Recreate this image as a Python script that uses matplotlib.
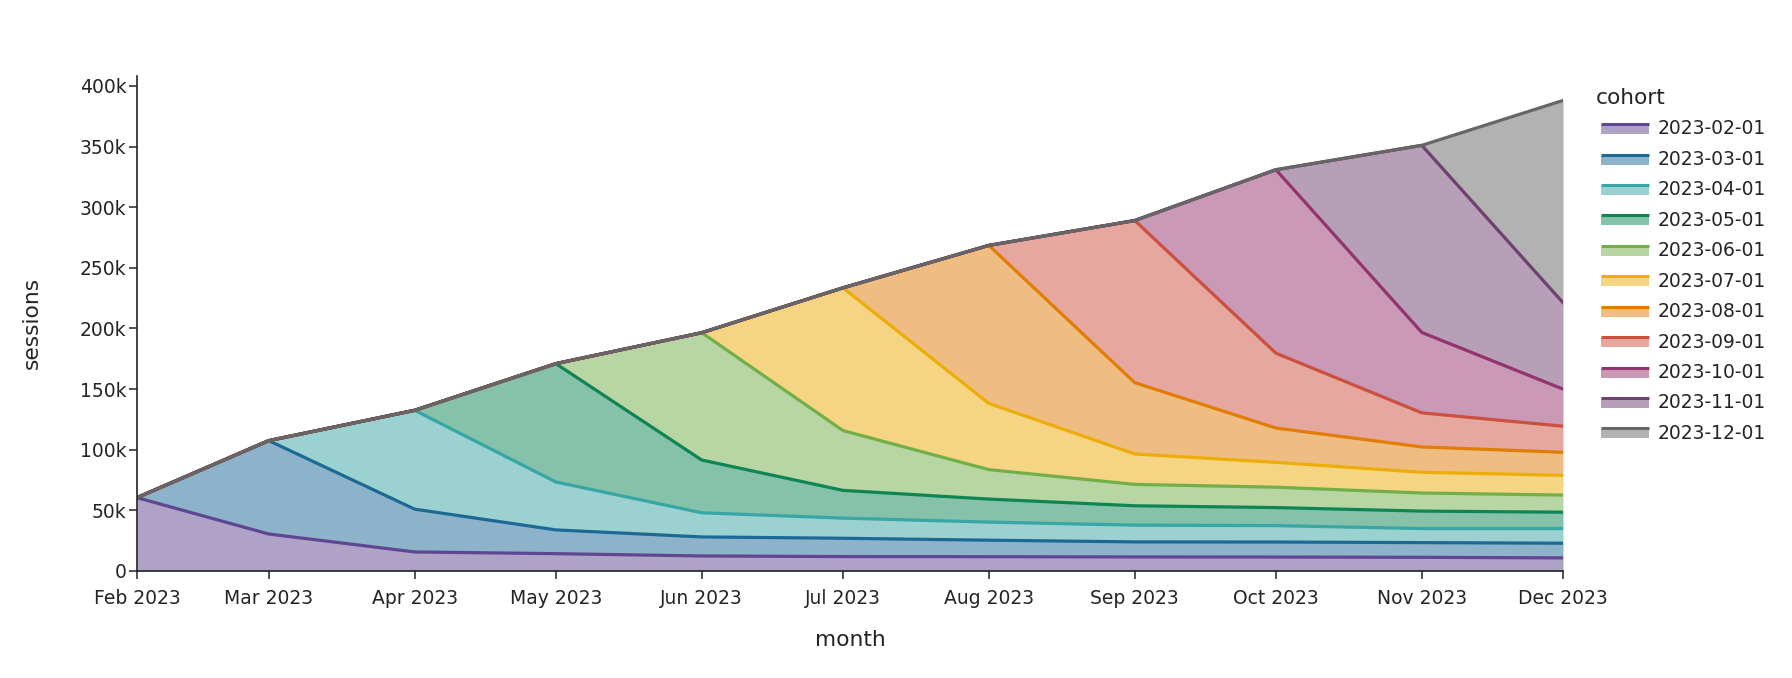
import numpy as np
import matplotlib
matplotlib.use("Agg")
import matplotlib.pyplot as plt
import matplotlib.dates as mdates
from matplotlib.legend_handler import HandlerBase
from matplotlib.patches import Rectangle
from matplotlib.lines import Line2D
from matplotlib.ticker import FuncFormatter, MultipleLocator
import datetime as dt

# ---- data (sessions, in thousands) ----
months = ["2023-02-01", "2023-03-01", "2023-04-01", "2023-05-01", "2023-06-01",
          "2023-07-01", "2023-08-01", "2023-09-01", "2023-10-01", "2023-11-01",
          "2023-12-01"]
cohorts = ["2023-02-01", "2023-03-01", "2023-04-01", "2023-05-01", "2023-06-01",
           "2023-07-01", "2023-08-01", "2023-09-01", "2023-10-01", "2023-11-01",
           "2023-12-01"]

c_2023_02 = [60.5, 30.5, 15.7, 14.3, 12.4, 11.9, 11.8, 11.6, 11.5, 11.3, 10.8]
c_2023_03 = [77.0, 35.3, 19.6, 15.7, 15.1, 13.6, 12.4, 12.4, 12.1, 12.1]
c_2023_04 = [81.5, 39.5, 19.9, 16.6, 14.9, 13.8, 13.5, 11.6, 12.1]
c_2023_05 = [97.6, 43.5, 22.9, 19.0, 16.0, 14.9, 14.4, 13.5]
c_2023_06 = [105.0, 49.3, 24.3, 17.6, 16.8, 14.9, 14.1]
c_2023_07 = [117.7, 54.6, 25.1, 20.5, 17.1, 16.3]
c_2023_08 = [130.3, 58.8, 28.3, 20.9, 19.0]
c_2023_09 = [133.7, 61.7, 28.1, 21.5]
c_2023_10 = [151.3, 66.3, 30.6]
c_2023_11 = [154.3, 71.3]
c_2023_12 = [166.7]

cohort_values = [c_2023_02, c_2023_03, c_2023_04, c_2023_05, c_2023_06, c_2023_07,
                 c_2023_08, c_2023_09, c_2023_10, c_2023_11, c_2023_12]

colors = ["#5F4690", "#1D6996", "#38A6A5", "#0F8554", "#73AF48", "#EDAD08",
          "#E17C05", "#CC503E", "#94346E", "#6F4070", "#666666"]

# ---- build stacked series ----
dates = [dt.datetime.strptime(m, "%Y-%m-%d") for m in months]
n = len(months)
series = []
for vals in cohort_values:
    arr = np.zeros(n)
    arr[n - len(vals):] = np.array(vals) * 1000.0
    series.append(arr)
cum = np.cumsum(np.vstack(series), axis=0)

TXT = "#242424"
plt.rcParams['font.family'] = ['DejaVu Sans']
plt.rcParams['text.color'] = TXT
plt.rcParams['axes.labelcolor'] = TXT
plt.rcParams['xtick.color'] = TXT
plt.rcParams['ytick.color'] = TXT

fig = plt.figure(figsize=(17.92, 6.78), dpi=100)
ax = fig.add_axes([137 / 1792, 1 - 571 / 678, (1563 - 137) / 1792, (571 - 75.5) / 678])

prev = np.zeros(n)
for i in range(len(cohorts)):
    ax.fill_between(dates, prev, cum[i], color=colors[i], alpha=0.5, linewidth=0, zorder=1)
    prev = cum[i]
for i in range(len(cohorts)):
    ax.plot(dates, cum[i], color=colors[i], lw=2.3, zorder=2 + i * 0.01,
            solid_joinstyle='round')

ax.set_xlim(dates[0], dates[-1])
ax.set_ylim(0, 408600)

ax.xaxis.set_major_locator(mdates.MonthLocator())
ax.xaxis.set_major_formatter(mdates.DateFormatter("%b %Y"))
ax.yaxis.set_major_locator(MultipleLocator(50000))
ax.yaxis.set_major_formatter(FuncFormatter(lambda v, p: "0" if v == 0 else f"{int(round(v/1000))}k"))

for s in ["top", "right"]:
    ax.spines[s].set_visible(False)
for s in ["left", "bottom"]:
    ax.spines[s].set_linewidth(1.2)
    ax.spines[s].set_color(TXT)
ax.tick_params(axis="both", direction="out", length=5.5, width=1.1, labelsize=13.5)
ax.tick_params(axis="y", pad=2)
ax.tick_params(axis="x", pad=7.5)

ax.set_xlabel("month", fontsize=15.7, labelpad=16)
ax.set_ylabel("sessions", fontsize=15.7, labelpad=27.5)

SYM_OFFSET = 3.6  # points


class AreaHandler(HandlerBase):
    def create_artists(self, legend, orig_handle, xdescent, ydescent, width, height,
                       fontsize, trans):
        color = orig_handle.get_color()
        x0 = -xdescent + SYM_OFFSET
        w = width - SYM_OFFSET
        y0 = -ydescent
        rect = Rectangle((x0, y0 + 0.0 * height), w, 0.72 * height,
                         facecolor=color, alpha=0.5, edgecolor='none', transform=trans)
        line = Line2D([x0, x0 + w], [y0 + 0.80 * height] * 2, color=color, lw=2.2,
                      transform=trans, solid_capstyle='butt')
        return [rect, line]


handles = [Line2D([], [], color=c) for c in colors]
leg = fig.legend(handles, cohorts, loc="upper left", bbox_to_anchor=(1595.5 / 1792, 1 - 88 / 678),
                 frameon=False, title="cohort", fontsize=13.5, title_fontsize=15.6,
                 handler_map={Line2D: AreaHandler()}, handlelength=2.83, handleheight=0.65,
                 handletextpad=0.48, labelspacing=0.61, alignment="left", borderaxespad=0,
                 borderpad=0.0)

fig.savefig("out.png", dpi=100)
